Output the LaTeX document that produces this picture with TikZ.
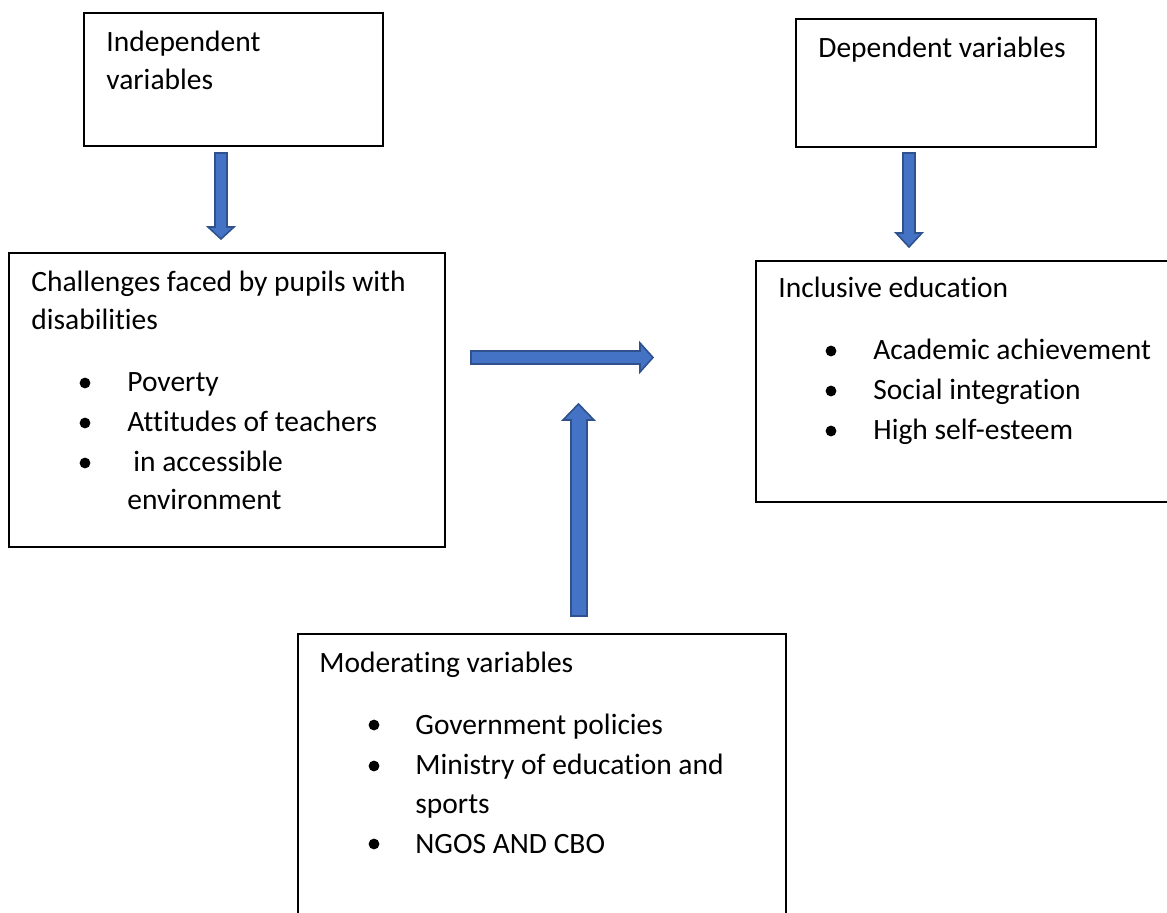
\documentclass[tikz,border=0pt]{standalone}
\usepackage{fontspec}
\setmainfont{Carlito}[Ligatures={NoCommon}]
\definecolor{arrowfill}{HTML}{4472C4}
\definecolor{arrowline}{HTML}{2F528F}
\begin{document}
\begin{tikzpicture}[x=0.5pt,y=-0.5pt,
  box/.style={draw=black, line width=0.6pt},
  txt/.style={anchor=base west, inner sep=0pt, font=\fontsize{14.75}{18}\selectfont},
  dot/.style={circle, fill=black, inner sep=0pt, minimum size=5.4pt},
  barrow/.style={fill=arrowfill, draw=arrowline, line width=0.8pt, line join=miter}]
\useasboundingbox (0,0) rectangle (1167,913);
\clip (0,0) rectangle (1167,913);

% boxes
\draw[box] (84,13) rectangle (383,146);
\draw[box] (796,19) rectangle (1096,147);
\draw[box] (9,253) rectangle (445,547);
\draw[box] (756,261) rectangle (1190,502);
\draw[box] (298,634) rectangle (786,940);

% block arrows
\draw[barrow] (215,153) -- (227,153) -- (227,227) -- (234,227) -- (221,239) -- (208,227) -- (215,227) -- cycle;
\draw[barrow] (903,153) -- (915,153) -- (915,233) -- (922,233) -- (909,247) -- (896,233) -- (903,233) -- cycle;
\draw[barrow] (471,351) -- (640,351) -- (640,343) -- (653,357.5) -- (640,372) -- (640,364) -- (471,364) -- cycle;
\draw[barrow] (571,616) -- (587,616) -- (587,420) -- (594,420) -- (578.5,404) -- (563,420) -- (571,420) -- cycle;

% independent variables
\node[txt] (ind1) at (106,52) {Independent};
\node[txt] (ind2) at (106,90) {variables};

% dependent variables
\node[txt] (dep1) at (818,58) {Dependent variables};

% challenges
\node[txt] (ch1) at (31,292) {Challenges faced by pupils with};
\node[txt] (ch2) at (31,330) {disabilities};
\node[dot] (chb1) at (85,383) {};
\node[txt] (ch3) at (127,392) {Poverty};
\node[dot] (chb2) at (85,423) {};
\node[txt] (ch4) at (127,432) {Attitudes of teachers};
\node[dot] (chb3) at (85,463) {};
\node[txt] (ch5) at (133,472) {in accessible};
\node[txt] (ch6) at (127,510) {environment};

% inclusive education
\node[txt] (in1) at (778,298) {Inclusive education};
\node[dot] (inb1) at (831,351) {};
\node[txt] (in2) at (873,360) {Academic achievement};
\node[dot] (inb2) at (831,391) {};
\node[txt] (in3) at (873,400) {Social integration};
\node[dot] (inb3) at (831,431) {};
\node[txt] (in4) at (873,440) {High self-esteem};

% moderating variables
\node[txt] (mo1) at (319,673) {Moderating variables};
\node[dot] (mob1) at (374,725) {};
\node[txt] (mo2) at (415,734) {Government policies};
\node[dot] (mob2) at (374,766) {};
\node[txt] (mo3) at (415,775) {Ministry of education and};
\node[txt] (mo4) at (415,813) {sports};
\node[dot] (mob3) at (374,844) {};
\node[txt] (mo5) at (415,853) {NGOS AND CBO};
\end{tikzpicture}
\end{document}
